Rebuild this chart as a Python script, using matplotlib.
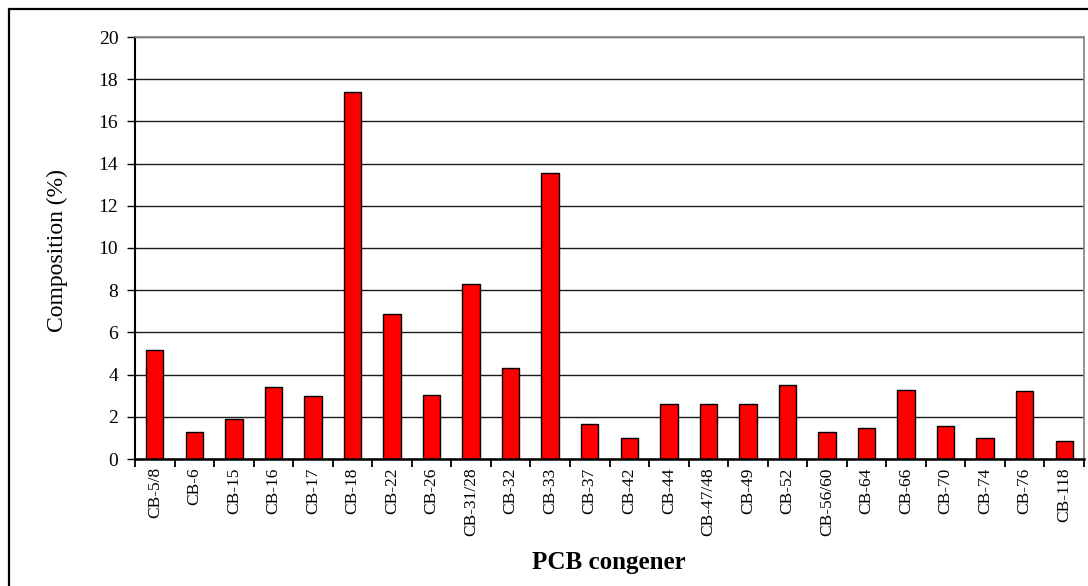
import matplotlib
matplotlib.use("Agg")
import matplotlib.pyplot as plt
from matplotlib.patches import Rectangle

categories = ["CB-5/8", "CB-6", "CB-15", "CB-16", "CB-17", "CB-18", "CB-22", "CB-26",
              "CB-31/28", "CB-32", "CB-33", "CB-37", "CB-42", "CB-44", "CB-47/48", "CB-49",
              "CB-52", "CB-56/60", "CB-64", "CB-66", "CB-70", "CB-74", "CB-76", "CB-118"]
values = [5.15, 1.29, 1.88, 3.40, 2.97, 17.38, 6.89, 3.02,
          8.28, 4.30, 13.54, 1.66, 0.98, 2.59, 2.59, 2.59,
          3.49, 1.29, 1.45, 3.28, 1.58, 0.98, 3.24, 0.87]
yticks = [0, 2, 4, 6, 8, 10, 12, 14, 16, 18, 20]

plt.rcParams['font.family'] = ['Liberation Serif', 'DejaVu Serif']

W, H = 1088, 586
fig = plt.figure(figsize=(W / 100, H / 100), dpi=100)
ax = fig.add_axes([135 / W, 1 - 459 / H, (1084 - 135) / W, (459 - 37) / H])

n = len(categories)
x = list(range(n))
ax.bar(x, values, width=0.44, color='#ff0000', edgecolor='black', linewidth=1.0, zorder=3)

ax.set_xlim(-0.5, n - 0.5)
ax.set_ylim(0, 20)
ax.set_yticks(yticks)
ax.set_yticklabels([str(t) for t in yticks], fontsize=14)
ax.yaxis.grid(True, color='#1a1a1a', linewidth=1.0, zorder=0)
ax.set_axisbelow(True)

ax.set_xticks([i - 0.5 for i in range(n + 1)])
ax.set_xticklabels([])
ax.set_xticks(x, minor=True)
ax.set_xticklabels(categories, minor=True, rotation=90, fontsize=12.5)
ax.tick_params(axis='x', which='minor', length=0, pad=6)
ax.tick_params(axis='x', which='major', length=6, width=1.3, direction='out', color='black')
ax.tick_params(axis='y', length=6, width=1.0, direction='out', pad=6)

for s in ['top', 'right']:
    ax.spines[s].set_color('#888888')
    ax.spines[s].set_linewidth(1.3)
ax.spines['left'].set_linewidth(1.5)
ax.spines['bottom'].set_linewidth(1.8)
ax.spines['bottom'].set_zorder(4)

fig.text(57 / W, 1 - 250 / H, "Composition (%)", rotation=90, fontsize=17,
         ha='center', va='center')
fig.text(609 / W, 1 - 562 / H, "PCB congener", fontsize=18, fontweight='bold',
         ha='center', va='center')

fig.patches.append(Rectangle((8.5 / W, -0.05), 1.1, 1 - 8.5 / H + 0.05,
                             transform=fig.transFigure, fill=False,
                             edgecolor='black', linewidth=1.6))

fig.savefig("out.png", dpi=100)
